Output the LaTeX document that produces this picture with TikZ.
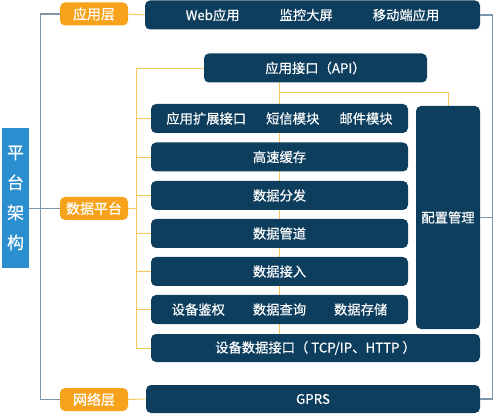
\documentclass[tikz,border=0pt]{standalone}
\usepackage{fontspec}
\setmainfont{Noto Sans CJK SC}[FakeBold=0.4]
\usepackage{tikz}
\usetikzlibrary{positioning,backgrounds}
\definecolor{navy}{HTML}{0D3E5E}
\definecolor{tagorange}{HTML}{F7A21B}
\definecolor{archblue}{HTML}{2B8FCF}
\definecolor{trunkgray}{HTML}{7F95AA}
\definecolor{linkgold}{HTML}{F4C85A}

\begin{document}
\begin{tikzpicture}[x=1pt, y=-1pt,
  bar/.style={fill=navy, text=white, rounded corners=5pt, inner sep=0pt, minimum height=29pt, font=\fontsize{13.3}{15}\selectfont},
  tag/.style={fill=tagorange, text=white, rounded corners=5pt, inner sep=0pt, minimum width=68pt, minimum height=23pt, font=\fontsize{14}{16}\selectfont},
  trunk/.style={draw=trunkgray, line width=1.2pt},
  link/.style={draw=linkgold, line width=0.9pt}
]
  \useasboundingbox (0,0) rectangle (500,419);

  % Left: title
  \node[fill=archblue, text=white, inner sep=0pt, minimum width=27pt, minimum height=140pt,
    align=center, font=\fontsize{17}{30}\selectfont] (arch) at (15.5,198) {平\\台\\架\\构};

  % Layer tags
  \node[tag] (app) at (94,14) {应用层};
  \node[tag] (data) at (94,208.5) {数据平台};
  \node[tag] (net) at (94,399.5) {网络层};

  % Application layer
  \node[bar, minimum width=335pt] (apps) at (312.5,15) {Web应用\hspace{40pt}监控大屏\hspace{40pt}移动端应用};

  % Data platform
  \node[bar, minimum width=223pt] (api) at (315.5,68) {应用接口（API）};
  \node[bar, minimum width=257pt] (ext) at (279.5,118.5) {应用扩展接口\hspace{20pt}短信模块\hspace{20pt}邮件模块};
  \node[bar, minimum width=257pt] (cache) at (279.5,157) {高速缓存};
  \node[bar, minimum width=257pt] (dist) at (279.5,195.5) {数据分发};
  \node[bar, minimum width=257pt] (pipe) at (279.5,233.5) {数据管道};
  \node[bar, minimum width=257pt] (access) at (279.5,271.5) {数据接入};
  \node[bar, minimum width=257pt] (auth) at (279.5,309.5) {设备鉴权\hspace{28pt}数据查询\hspace{28pt}数据存储};
  \node[bar, minimum width=329pt, minimum height=28pt] (devif) at (315.5,348) {设备数据接口（ TCP/IP、HTTP ）};
  \node[bar, minimum width=64pt, minimum height=223pt] (cfg) at (448,217.5) {配置管理};

  % Network layer
  \node[bar, minimum width=334pt, minimum height=28pt] (gprs) at (313,399) {GPRS};

  % Trunk lines
  \draw[trunk] (app.west) -- ++(-19,0) |- (net.west);
  \draw[trunk] (arch.east |- data.west) -- (data.west);
  \draw[trunk] (apps.east) -- ++(12,0) |- (gprs.east);
  \draw[trunk] (cfg.east) -- ++(12,0);

  % Links
  \draw[link] (app.east) -- (apps.west);
  \draw[link] (net.east) -- (gprs.west);
  \draw[link] (api.west) -- ++(-67,0) coordinate (spine) |- (devif.west);
  \draw[link] (data.east) -- (data.east -| spine);
  \draw[link] (spine |- ext.west) -- (ext.west);
  \draw[link] (spine |- cache.west) -- (cache.west);
  \draw[link] (spine |- dist.west) -- (dist.west);
  \draw[link] (spine |- pipe.west) -- (pipe.west);
  \draw[link] (spine |- access.west) -- (access.west);
  \draw[link] (spine |- auth.west) -- (auth.west);

  \begin{scope}[on background layer]
    \draw[link] (api.south -| cache.north) -- (devif.north -| cache.north);
    \draw[link] (api.south -| cache.north) ++(0,10) -| (cfg.north);
  \end{scope}
\end{tikzpicture}
\end{document}
